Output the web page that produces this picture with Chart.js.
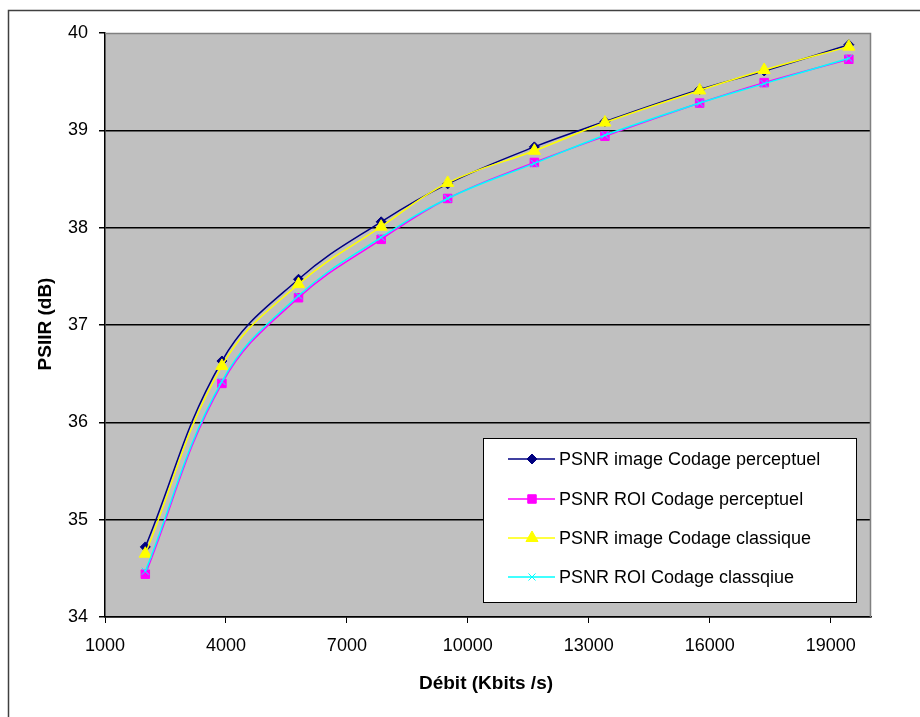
<!DOCTYPE html>
<html>
<head>
<meta charset="utf-8">
<script src="https://cdn.jsdelivr.net/npm/chart.js@4.4.0/dist/chart.umd.min.js"></script>
<style>
  html, body { margin: 0; padding: 0; background: #fff; }
  canvas { display: block; }
</style>
</head>
<body>
<canvas id="psnr_chart" width="920" height="717"></canvas>
<script>
// Débit (Kbits/s) of each measure
var debit = [2000, 3900, 5800, 7850, 9500, 11650, 13400, 15750, 17350, 19450];

var psnrImagePerceptuel = [34.72, 36.63, 37.47, 38.06, 38.45, 38.83, 39.09, 39.42, 39.61, 39.88];
var psnrRoiPerceptuel   = [34.44, 36.40, 37.28, 37.88, 38.30, 38.67, 38.94, 39.28, 39.49, 39.73];
var psnrImageClassique  = [34.65, 36.58, 37.42, 38.01, 38.46, 38.79, 39.08, 39.41, 39.62, 39.86];
var psnrRoiClassique    = [34.47, 36.42, 37.30, 37.90, 38.30, 38.66, 38.95, 39.28, 39.48, 39.74];

var seriesLabels = [
    'PSNR image Codage perceptuel',
    'PSNR ROI Codage perceptuel',
    'PSNR image Codage classique',
    'PSNR ROI Codage classqiue'
];

var xTicks = [1000, 4000, 7000, 10000, 13000, 16000, 19000];

function points(values) {
    return values.map(function (v, i) { return {x: debit[i], y: v}; });
}

function series(label, values, color, style, radius, order) {
    return {
        label: label,
        data: points(values),
        borderColor: color,
        backgroundColor: color,
        borderWidth: 1.5,
        pointStyle: style,
        pointRadius: radius,
        pointBackgroundColor: color,
        pointBorderColor: color,
        pointBorderWidth: 1,
        tension: 0.4,
        order: order
    };
}

var decor = {
    id: 'decor',
    beforeDraw: function (chart) {
        var ctx = chart.ctx, a = chart.chartArea;
        ctx.save();
        ctx.fillStyle = '#fff';
        ctx.fillRect(0, 0, chart.width, chart.height);
        // outer frame of the chart object
        ctx.strokeStyle = '#404040';
        ctx.lineWidth = 1.5;
        ctx.beginPath();
        ctx.moveTo(8.5, chart.height);
        ctx.lineTo(8.5, 10.5);
        ctx.lineTo(chart.width, 10.5);
        ctx.stroke();
        ctx.fillStyle = '#c0c0c0';
        ctx.fillRect(a.left, a.top, a.right - a.left, a.bottom - a.top);
        ctx.restore();
    },
    beforeDatasetsDraw: function (chart) {
        var ctx = chart.ctx, a = chart.chartArea;
        ctx.save();
        ctx.strokeStyle = '#808080';
        ctx.lineWidth = 1.5;
        ctx.beginPath();
        ctx.moveTo(a.left, a.top + 0.5);
        ctx.lineTo(a.right - 0.5, a.top + 0.5);
        ctx.lineTo(a.right - 0.5, a.bottom);
        ctx.stroke();
        ctx.restore();
    },
    afterDraw: function (chart) {
        var ctx = chart.ctx;
        ctx.save();
        // axis titles
        ctx.fillStyle = '#000';
        ctx.font = 'bold 19px "Liberation Sans", Arial, sans-serif';
        ctx.textAlign = 'center';
        ctx.textBaseline = 'middle';
        ctx.fillText('Débit (Kbits /s)', 486, 684);
        ctx.translate(46, 324);
        ctx.rotate(-Math.PI / 2);
        ctx.fillText('PSIIR (dB)', 0, 0);
        ctx.restore();

        // legend box inside the plot
        ctx.save();
        ctx.fillStyle = '#fff';
        ctx.fillRect(483, 438, 373, 164);
        ctx.strokeStyle = '#000';
        ctx.lineWidth = 1;
        ctx.strokeRect(483.5, 438.5, 373, 164);
        ctx.font = '18px "Liberation Sans", Arial, sans-serif';
        ctx.textAlign = 'left';
        ctx.textBaseline = 'middle';
        var rows = [459, 499, 538, 577];
        chart.data.datasets.forEach(function (ds, i) {
            var y = rows[i];
            ctx.strokeStyle = ds.borderColor;
            ctx.lineWidth = 1.5;
            ctx.beginPath();
            ctx.moveTo(508, y);
            ctx.lineTo(555, y);
            ctx.stroke();
            ctx.fillStyle = ds.pointBackgroundColor;
            ctx.strokeStyle = ds.pointBorderColor;
            ctx.lineWidth = 1;
            Chart.helpers.drawPoint(ctx, {
                pointStyle: ds.pointStyle,
                radius: ds.pointRadius,
                rotation: 0,
                borderWidth: 1
            }, 532, y);
            ctx.fillStyle = '#000';
            ctx.fillText(ds.label, 559, y + 1);
        });
        ctx.restore();
    }
};

Chart.defaults.font.family = '"Liberation Sans", Arial, sans-serif';
Chart.defaults.font.size = 18;
Chart.defaults.color = '#000';

var psnr_chart = new Chart(document.getElementById('psnr_chart'), {
    type: 'line',
    data: {
        datasets: [
            series(seriesLabels[0], psnrImagePerceptuel, '#000080', 'rectRot', 5, 4),
            series(seriesLabels[1], psnrRoiPerceptuel, '#ff00ff', 'rect', 6, 3),
            series(seriesLabels[2], psnrImageClassique, '#ffff00', 'triangle', 7, 2),
            series(seriesLabels[3], psnrRoiClassique, '#00ffff', 'crossRot', 5, 1)
        ]
    },
    options: {
        responsive: false,
        animation: false,
        events: [],
        layout: {
            padding: {top: 33, right: 49, bottom: 0, left: 0}
        },
        plugins: {
            legend: {display: false},
            tooltip: {enabled: false},
            title: {display: false}
        },
        scales: {
            x: {
                type: 'linear',
                min: 1000,
                max: 20000,
                afterBuildTicks: function (scale) {
                    scale.ticks = xTicks.map(function (v) { return {value: v}; });
                },
                afterFit: function (scale) { scale.height = 100; },
                ticks: {
                    padding: 12,
                    maxRotation: 0,
                    autoSkip: false,
                    callback: function (v) { return String(v); }
                },
                grid: {
                    drawOnChartArea: false,
                    drawTicks: true,
                    tickLength: 6,
                    tickColor: '#000'
                },
                border: {color: '#000', width: 1.5}
            },
            y: {
                min: 34,
                max: 40,
                afterFit: function (scale) { scale.width = 105; },
                ticks: {
                    stepSize: 1,
                    padding: 11
                },
                grid: {
                    color: function (c) {
                        return c.tick && c.tick.value === 40 ? 'rgba(0,0,0,0)' : '#000';
                    },
                    lineWidth: 1.5,
                    tickLength: 6,
                    tickColor: '#000'
                },
                border: {color: '#000', width: 1.5}
            }
        }
    },
    plugins: [decor]
});
</script>
</body>
</html>
